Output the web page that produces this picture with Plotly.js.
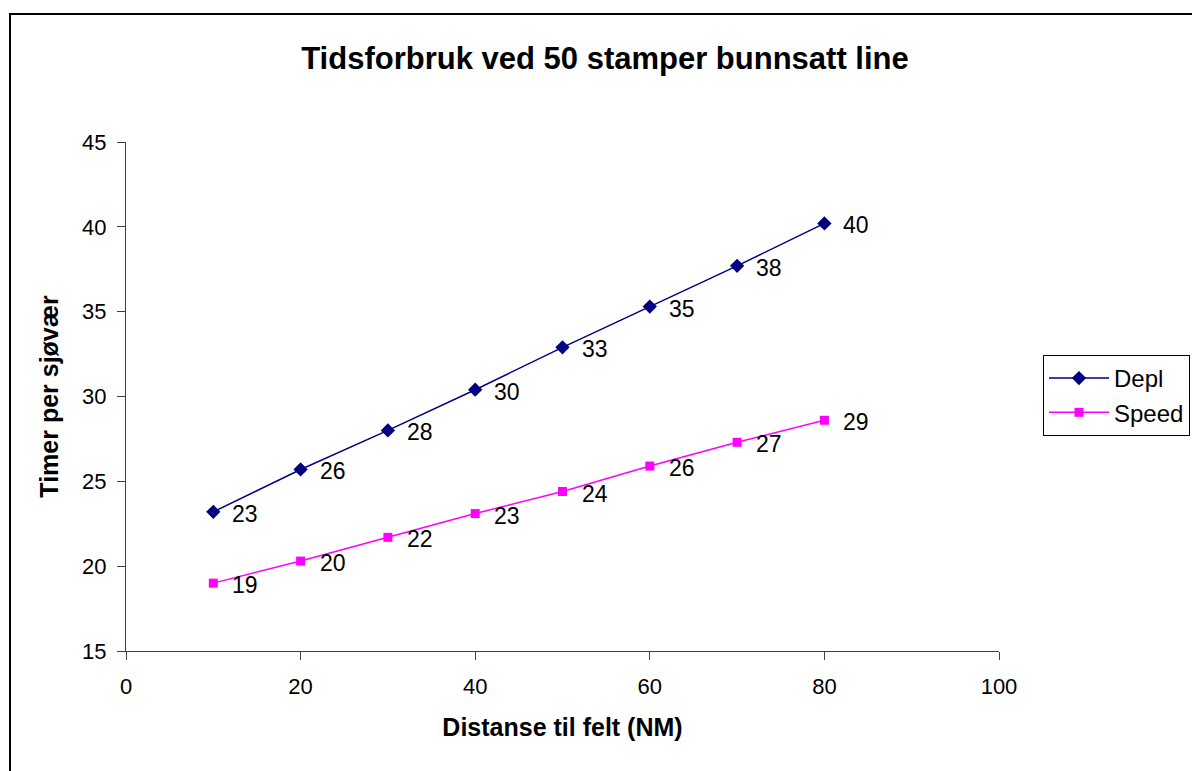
<!DOCTYPE html>
<html>
<head>
<meta charset="utf-8">
<script src="https://cdn.plot.ly/plotly-3.0.1.min.js"></script>
<style>
html,body{margin:0;padding:0;background:#fff;}
#wrap{position:relative;width:1192px;height:771px;overflow:hidden;}
#chart{position:absolute;left:0;top:0;width:1192px;height:771px;}
#frame{position:absolute;left:9px;top:13px;width:1200px;height:800px;border-left:2px solid #000;border-top:2px solid #000;pointer-events:none;}
</style>
</head>
<body>
<div id="wrap"><div id="chart"></div><div id="frame"></div></div>
<script>
const distances = [10, 20, 30, 40, 50, 60, 70, 80];
const deplValues = [23.2, 25.7, 28.0, 30.4, 32.9, 35.3, 37.7, 40.2];
const speedValues = [19.0, 20.3, 21.7, 23.1, 24.4, 25.9, 27.3, 28.6];
const xTicks = [0, 20, 40, 60, 80, 100];
const yTicks = [15, 20, 25, 30, 35, 40, 45];

const font = "Liberation Sans, Arial, sans-serif";
const labelFont = {family: font, size: 23, color: "#000"};

const traces = [
  {
    x: distances, y: deplValues, name: "Depl",
    type: "scatter", mode: "lines+markers",
    line: {color: "#000080", width: 1.5},
    marker: {symbol: "diamond", size: 11, color: "#000080"}
  },
  {
    x: distances, y: speedValues, name: "Speed",
    type: "scatter", mode: "lines+markers",
    line: {color: "#FF00FF", width: 1.5},
    marker: {symbol: "square", size: 9, color: "#FF00FF"}
  }
];

function labels(xs, ys) {
  return xs.map((x, i) => ({
    x: x, y: ys[i], xref: "x", yref: "y",
    text: String(Math.round(ys[i])),
    showarrow: false, xanchor: "left", yanchor: "middle",
    xshift: 17, yshift: -2, font: labelFont
  }));
}

const layout = {
  width: 1192, height: 771,
  margin: {l: 126, r: 193, t: 142, b: 120},
  paper_bgcolor: "#fff", plot_bgcolor: "#fff",
  font: {family: font, color: "#000", size: 22},
  title: {
    text: "<b>Tidsforbruk ved 50 stamper bunnsatt line</b>",
    font: {family: font, size: 31, color: "#000"},
    xref: "container", yref: "container",
    x: 605/1192, y: 1 - 58/771, xanchor: "center", yanchor: "middle"
  },
  xaxis: {
    range: [0, 100], tickvals: xTicks, ticktext: xTicks.map(String),
    showgrid: false, zeroline: false,
    showline: true, linecolor: "#404040", linewidth: 1,
    ticks: "outside", ticklen: 8, tickcolor: "#404040", tickwidth: 1,
    ticklabelstandoff: 8,
    tickfont: {family: font, size: 22, color: "#000"},
    title: {text: "<b>Distanse til felt (NM)</b>", font: {family: font, size: 25, color: "#000"}, standoff: 20}
  },
  yaxis: {
    range: [15, 45], tickvals: yTicks, ticktext: yTicks.map(String),
    showgrid: false, zeroline: false,
    showline: true, linecolor: "#404040", linewidth: 1,
    ticks: "outside", ticklen: 8, tickcolor: "#404040", tickwidth: 1,
    ticklabelstandoff: 6,
    tickfont: {family: font, size: 22, color: "#000"},
    title: {text: "<b>Timer per sjøvær</b>", font: {family: font, size: 25, color: "#000"}, standoff: 16}
  },
  annotations: labels(distances, deplValues).concat(labels(distances, speedValues)),
  showlegend: true,
  legend: {
    x: 1043/1192, y: 1 - 355/771, xref: "container", yref: "container",
    xanchor: "left", yanchor: "top",
    bgcolor: "#fff", bordercolor: "#000", borderwidth: 1,
    font: {family: font, size: 24, color: "#000"},
    itemwidth: 60, tracegroupgap: 2
  }
};

Plotly.newPlot("chart", traces, layout, {displayModeBar: false, staticPlot: true});
</script>
</body>
</html>
